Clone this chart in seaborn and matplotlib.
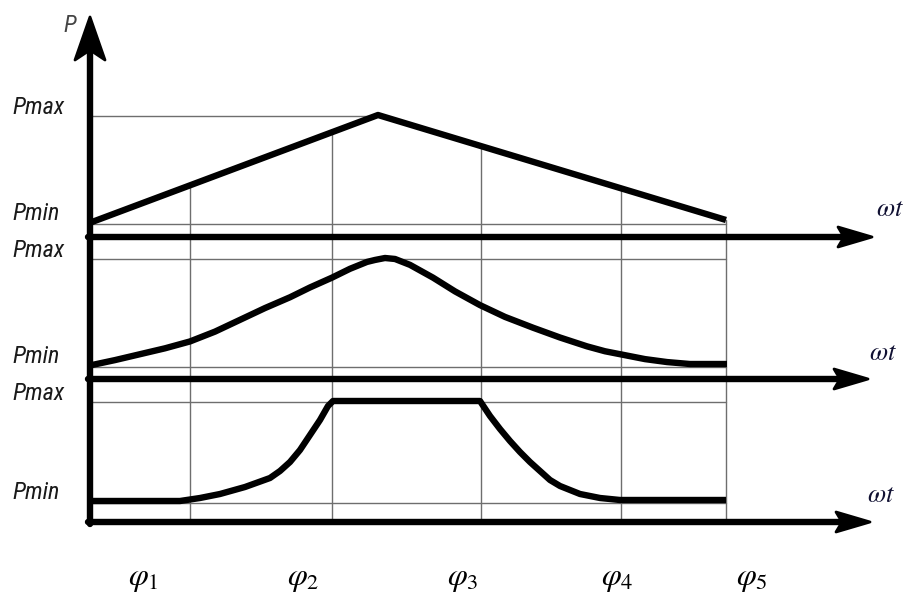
import numpy as np
import pandas as pd
import matplotlib
matplotlib.use("Agg")
import matplotlib.pyplot as plt
from matplotlib import font_manager as fm
import seaborn as sns

# ---------------- data ----------------
# positions along the omega*t axis (schematic units)
phase_grid_x = [190, 332, 481, 621, 726]
phase_labels = [r"$\varphi_1$", r"$\varphi_2$", r"$\varphi_3$", r"$\varphi_4$", r"$\varphi_5$"]
phase_label_x = [143, 303, 463, 617, 752]

# curve 1: linear rise / fall (P above Pmin, Pmax = max of series)
c1_x = [92, 378, 726]
c1_p = [0, 107, 2]

# curve 2: smooth bell shape
c2_x = [92, 115, 140, 165, 190, 215, 240, 265, 290, 310, 332, 350, 367, 375, 385,
        395, 400, 410, 433, 455, 480, 505, 533, 560, 587, 605, 620, 645, 667, 690, 727]
c2_p = [0, 5, 11, 17, 24, 34, 46, 58, 69, 79, 89, 98, 105, 107, 109,
        108, 106, 102, 89, 75, 61, 49, 38, 28, 19, 14, 11, 6, 3, 1, 1]

# curve 3: trapezoid with curved flanks
c3_x = [92, 180, 200, 220, 245, 270, 280, 290, 300, 310, 320, 328, 333, 480,
        490, 500, 510, 520, 530, 540, 550, 560, 570, 580, 600, 620, 726]
c3_p = [0, 0, 3, 7, 14, 23, 30, 39, 51, 66, 81, 95, 100, 100,
        85, 72, 60, 49, 39, 30, 21, 15, 11, 7, 3, 1, 1]

# panel geometry: y of Pmin, y of Pmax, y of omega-t axis, arrow tip x
panels = [
    dict(pmin=222, pmax=115, axis=237, tip=872, pmax_end=378, wt=(876, 216)),
    dict(pmin=365, pmax=258, axis=379, tip=868, pmax_end=726, wt=(869, 360)),
    dict(pmin=501, pmax=401, axis=522, tip=870, pmax_end=726, wt=(867, 502)),
]
curves = [(c1_x, c1_p), (c2_x, c2_p), (c3_x, c3_p)]

# ---------------- figure ----------------
sns.set_theme(style="white")
plt.rcParams["font.family"] = ["Liberation Sans", "DejaVu Sans"]
plt.rcParams["mathtext.fontset"] = "stix"

names = {f.name for f in fm.fontManager.ttflist}
label_family = "Liberation Sans"
for cand in ["Liberation Sans Narrow", "Roboto Condensed", "Open Sans Condensed",
             "DejaVu Sans Condensed", "Noto Sans Condensed"]:
    if cand in names:
        label_family = cand
        break

fig = plt.figure(figsize=(9.09, 5.98), dpi=100)
ax = fig.add_axes([0, 0, 1, 1])

x0 = 90
grid_col = "#6e6e6e"
glw = 1.0
thick = 4.6

frames = []
for i, ((xs, ps), pn) in enumerate(zip(curves, panels)):
    pmax_val = max(ps)
    ys = [pn["pmin"] - p / pmax_val * (pn["pmin"] - pn["pmax"]) for p in ps]
    frames.append(pd.DataFrame({"x": xs, "y": ys, "curve": f"c{i+1}"}))
df = pd.concat(frames, ignore_index=True)

top = df[df.curve == "c1"]
grid_top = np.interp(phase_grid_x, top.x, top.y)

sns.lineplot(data=df, x="x", y="y", units="curve", estimator=None, sort=False,
             color="black", lw=thick, ax=ax, zorder=3, legend=False)
for ln in ax.get_lines():
    ln.set_solid_capstyle("butt")
    ln.set_solid_joinstyle("round")
ax.set_xlim(0, 909)
ax.set_ylim(598, 0)
ax.axis("off")

for pn in panels:
    ax.plot([x0, pn["pmax_end"]], [pn["pmax"] + 0.5, pn["pmax"] + 0.5], color=grid_col, lw=glw, zorder=1)
    ax.plot([x0, 726], [pn["pmin"] + 1.5, pn["pmin"] + 1.5], color=grid_col, lw=glw, zorder=1)

for gx, gy in zip(phase_grid_x, grid_top):
    ax.plot([gx, gx], [gy, 522], color=grid_col, lw=glw, zorder=1)

for pn in panels:
    y = pn["axis"]
    tip = pn["tip"]
    ax.plot([x0 - 2, tip - 20], [y, y], color="black", lw=thick, solid_capstyle="round", zorder=4)
    head = np.array([[tip, y], [tip - 34, y - 10], [tip - 28, y], [tip - 34, y + 10]])
    ax.fill(head[:, 0], head[:, 1], color="black", lw=2, ec="black", joinstyle="round", zorder=5)
    ax.text(pn["wt"][0], pn["wt"][1], r"$\omega t$", fontsize=19, ha="left", va="baseline",
            color="#111133")

ax.plot([x0, x0], [524, 45], color="black", lw=thick, solid_capstyle="round", zorder=4)
vh = np.array([[x0, 17], [x0 + 15, 60], [x0, 50], [x0 - 15, 60]])
ax.fill(vh[:, 0], vh[:, 1], color="black", lw=2, ec="black", joinstyle="round", zorder=5)
ax.text(63, 32, "P", fontsize=17, style="italic", color="#444444", ha="left", va="baseline",
        family=[label_family, "DejaVu Sans"])

# Pmax / Pmin labels: size chosen so "Pmax" is ~52 px wide
renderer = fig.canvas.get_renderer()
probe = ax.text(0, 0, "Pmax", fontsize=20, style="italic", family=[label_family, "DejaVu Sans"])
w = probe.get_window_extent(renderer).width
probe.remove()
fs = 20 * 52.0 / w
for pn in panels:
    ax.text(12, pn["pmax"] - 1, "Pmax", fontsize=fs, style="italic", color="#1a1a1a",
            ha="left", va="baseline", family=[label_family, "DejaVu Sans"])
    ax.text(12, pn["pmin"] - 2, "Pmin", fontsize=fs, style="italic", color="#1a1a1a",
            ha="left", va="baseline", family=[label_family, "DejaVu Sans"])

for lx, lab in zip(phase_label_x, phase_labels):
    ax.text(lx, 585, lab, fontsize=23, ha="center", va="baseline", color="black")

fig.savefig("out.png", dpi=100)
